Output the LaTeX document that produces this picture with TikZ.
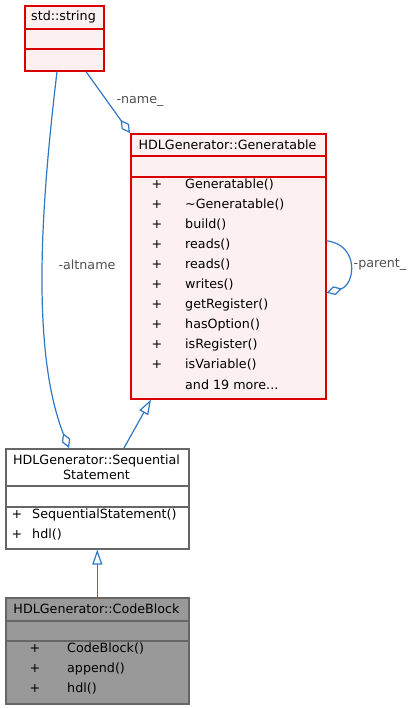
\documentclass[tikz,border=0pt]{standalone}
\usepackage{fontspec}
\setmainfont{DejaVu Sans}
\usetikzlibrary{arrows.meta}
\definecolor{boxred}{HTML}{D80000}
\definecolor{boxfill}{HTML}{FCF0F0}
\definecolor{boxgray}{HTML}{666666}
\definecolor{cbfill}{HTML}{9A999A}
\definecolor{edgeblue}{HTML}{2F78C4}
\definecolor{lblgray}{HTML}{505050}
\tikzset{
  redbox/.style={draw=boxred, fill=boxfill, line width=1.6, inner sep=0, anchor=north west},
  graybox/.style={draw=boxgray, fill=white, line width=1.6, inner sep=0, anchor=north west},
  txt/.style={inner sep=0, font=\fontsize{12.7}{15}\selectfont},
  op/.style={txt, anchor=west},
  lbl/.style={txt, text=lblgray, fill=white, inner sep=1},
  edge/.style={draw=edgeblue, line width=1.2},
  agg/.style={edge, -{Diamond[open, length=16, width=9]}},
  inh/.style={edge, -{Triangle[open, length=15, width=10]}}
}
\begin{document}
\begin{tikzpicture}[x=1pt, y=-1pt]
\useasboundingbox (0,0) rectangle (413,708);
% std::string
\node[redbox, minimum width=79, minimum height=65] (str) at (24,5) {};
\draw[boxred, line width=1.2] ([yshift=-24]str.north west) -- ([yshift=-24]str.north east);
\draw[boxred, line width=1.2] ([yshift=-44]str.north west) -- ([yshift=-44]str.north east);
\node[txt] (strtitle) at (63.5,17) {std::string};
% Generatable
\node[redbox, minimum width=195, minimum height=265] (gen) at (130,133) {};
\draw[boxred, line width=1.2] ([yshift=-23]gen.north west) -- ([yshift=-23]gen.north east);
\draw[boxred, line width=1.2] ([yshift=-44]gen.north west) -- ([yshift=-44]gen.north east);
\node[txt] (gentitle) at (227.5,144.5) {HDLGenerator::Generatable};
\foreach \m [count=\i from 0] in {Generatable(), \textasciitilde Generatable(), build(), reads(), reads(), writes(), getRegister(), hasOption(), isRegister(), isVariable()}{
  \node[txt] (genplus\i) at (157,185+20*\i) {+};
  \node[op] (genop\i) at (185,185+20*\i) {\m};
}
\node[op] (genmore) at (185,385) {and 19 more...};
% SequentialStatement
\node[graybox, minimum width=183, minimum height=100] (seq) at (5,448) {};
\draw[boxgray, line width=1.2] ([yshift=-38]seq.north west) -- ([yshift=-38]seq.north east);
\draw[boxgray, line width=1.2] ([yshift=-59]seq.north west) -- ([yshift=-59]seq.north east);
\node[txt, align=center] (seqtitle) at (96.5,467.5) {HDLGenerator::Sequential\\Statement};
\node[txt] (seqplus0) at (17,515) {+};
\node[op] (seqop0) at (32,515) {SequentialStatement()};
\node[txt] (seqplus1) at (17,535) {+};
\node[op] (seqop1) at (32,535) {hdl()};
% CodeBlock
\node[graybox, fill=cbfill, minimum width=183, minimum height=106] (code) at (5,597) {};
\draw[boxgray, line width=1.2] ([yshift=-24]code.north west) -- ([yshift=-24]code.north east);
\draw[boxgray, line width=1.2] ([yshift=-44]code.north west) -- ([yshift=-44]code.north east);
\node[txt] (codetitle) at (96.5,609) {HDLGenerator::CodeBlock};
\foreach \m [count=\i from 0] in {CodeBlock(), append(), hdl()}{
  \node[txt] (codeplus\i) at (35,649+20*\i) {+};
  \node[op] (codeop\i) at (67,649+20*\i) {\m};
}
% connectors
\draw[agg] ([xshift=62]str.south west) -- (gen.north west);
\node[lbl] (lname) at (140,101) {-name\_};
\draw[agg] ([xshift=33]str.south west) .. controls (43,190) and (29,347) .. ([xshift=64]seq.north west);
\node[lbl] (laltname) at (87,265) {-altname};
\draw[agg] ([yshift=25.5]gen.east) .. controls (360,245) and (355,285) .. ([yshift=-26.5]gen.east);
\node[lbl] (lparent) at (380,265) {-parent\_};
\draw[inh] ([xshift=119]seq.north west) -- ([xshift=21]gen.south west);
\draw[inh] (code.north) -- (seq.south);
\end{tikzpicture}
\end{document}
